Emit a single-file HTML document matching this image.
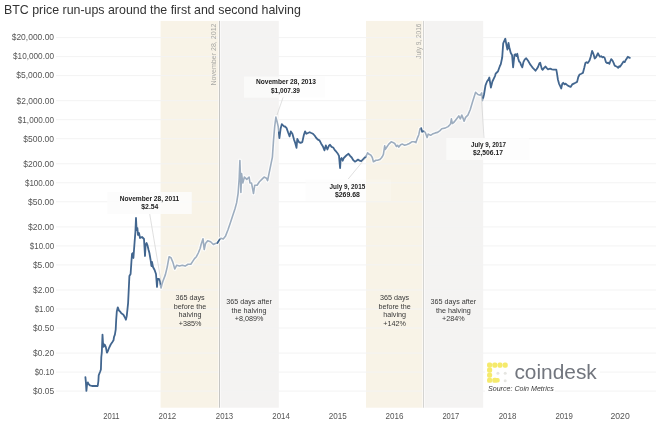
<!DOCTYPE html>
<html><head><meta charset="utf-8"><style>
html,body{margin:0;padding:0;background:#fff;width:659px;height:425px;overflow:hidden}
.t{position:absolute;left:4px;top:3px;font-family:"Liberation Sans",sans-serif;font-size:12.4px;color:#333;white-space:nowrap}
svg{position:absolute;left:0;top:0}
body{filter:blur(0.35px)}
</style></head><body>
<svg width="659" height="425" viewBox="0 0 659 425">
<rect x="160.6" y="20.9" width="58.8" height="386.8" fill="#f8f3e7"/>
<rect x="219.4" y="20.9" width="59.4" height="386.8" fill="#f4f3f2"/>
<rect x="366.0" y="20.9" width="57.3" height="386.8" fill="#f8f3e7"/>
<rect x="423.3" y="20.9" width="59.9" height="386.8" fill="#f4f3f2"/>
<g stroke="#f3f3f3" stroke-width="1"><line x1="56" x2="656" y1="37.6" y2="37.6"/><line x1="56" x2="656" y1="56.6" y2="56.6"/><line x1="56" x2="656" y1="75.6" y2="75.6"/><line x1="56" x2="656" y1="100.7" y2="100.7"/><line x1="56" x2="656" y1="119.7" y2="119.7"/><line x1="56" x2="656" y1="138.7" y2="138.7"/><line x1="56" x2="656" y1="163.8" y2="163.8"/><line x1="56" x2="656" y1="182.8" y2="182.8"/><line x1="56" x2="656" y1="201.8" y2="201.8"/><line x1="56" x2="656" y1="226.9" y2="226.9"/><line x1="56" x2="656" y1="245.9" y2="245.9"/><line x1="56" x2="656" y1="264.9" y2="264.9"/><line x1="56" x2="656" y1="290.0" y2="290.0"/><line x1="56" x2="656" y1="309.0" y2="309.0"/><line x1="56" x2="656" y1="328.0" y2="328.0"/><line x1="56" x2="656" y1="353.1" y2="353.1"/><line x1="56" x2="656" y1="372.1" y2="372.1"/><line x1="56" x2="656" y1="391.1" y2="391.1"/></g>
<line x1="219.5" x2="219.5" y1="20.9" y2="407.7" stroke="#fff" stroke-opacity="0.5" stroke-width="3.2"/>
<line x1="423.5" x2="423.5" y1="20.9" y2="407.7" stroke="#fff" stroke-opacity="0.5" stroke-width="3.2"/>
<line x1="219.5" x2="219.5" y1="20.9" y2="407.7" stroke="#c6c6c4" stroke-width="1"/>
<line x1="423.5" x2="423.5" y1="20.9" y2="407.7" stroke="#d4d4d2" stroke-width="1"/>
<g font-family="'Liberation Sans', sans-serif" font-size="7" fill="#a8a8a4">
<text transform="translate(216.0 85.5) rotate(-90)" textLength="62" lengthAdjust="spacingAndGlyphs">November 28, 2012</text>
<text transform="translate(420.6 58.7) rotate(-90)" textLength="35.2" lengthAdjust="spacingAndGlyphs">July 9, 2016</text>
</g>
<g font-family="'Liberation Sans', sans-serif" font-size="8.5" fill="#555" text-anchor="end"><text x="54.1" y="40.4" textLength="42.4" lengthAdjust="spacingAndGlyphs">$20,000.00</text><text x="54.1" y="59.4" textLength="41.1" lengthAdjust="spacingAndGlyphs">$10,000.00</text><text x="54.1" y="78.4" textLength="37.8" lengthAdjust="spacingAndGlyphs">$5,000.00</text><text x="54.1" y="103.5" textLength="37.5" lengthAdjust="spacingAndGlyphs">$2,000.00</text><text x="54.1" y="122.5" textLength="36.3" lengthAdjust="spacingAndGlyphs">$1,000.00</text><text x="54.1" y="141.5" textLength="30.8" lengthAdjust="spacingAndGlyphs">$500.00</text><text x="54.1" y="166.6" textLength="30.8" lengthAdjust="spacingAndGlyphs">$200.00</text><text x="54.1" y="185.6" textLength="29.2" lengthAdjust="spacingAndGlyphs">$100.00</text><text x="54.1" y="204.6" textLength="26.1" lengthAdjust="spacingAndGlyphs">$50.00</text><text x="54.1" y="229.7" textLength="26.1" lengthAdjust="spacingAndGlyphs">$20.00</text><text x="54.1" y="248.7" textLength="24.3" lengthAdjust="spacingAndGlyphs">$10.00</text><text x="54.1" y="267.7" textLength="21.2" lengthAdjust="spacingAndGlyphs">$5.00</text><text x="54.1" y="292.8" textLength="21.0" lengthAdjust="spacingAndGlyphs">$2.00</text><text x="54.1" y="311.8" textLength="19.4" lengthAdjust="spacingAndGlyphs">$1.00</text><text x="54.1" y="330.8" textLength="21.0" lengthAdjust="spacingAndGlyphs">$0.50</text><text x="54.1" y="355.9" textLength="21.0" lengthAdjust="spacingAndGlyphs">$0.20</text><text x="54.1" y="374.9" textLength="19.4" lengthAdjust="spacingAndGlyphs">$0.10</text><text x="54.1" y="393.9" textLength="21.0" lengthAdjust="spacingAndGlyphs">$0.05</text></g>
<g font-family="'Liberation Sans', sans-serif" font-size="8.5" fill="#555" text-anchor="middle"><text x="111.40" y="418.9" textLength="16.4" lengthAdjust="spacingAndGlyphs">2011</text><text x="167.40" y="418.9" textLength="17.6" lengthAdjust="spacingAndGlyphs">2012</text><text x="224.50" y="418.9" textLength="17.4" lengthAdjust="spacingAndGlyphs">2013</text><text x="281.05" y="418.9" textLength="17.5" lengthAdjust="spacingAndGlyphs">2014</text><text x="337.85" y="418.9" textLength="18.1" lengthAdjust="spacingAndGlyphs">2015</text><text x="394.45" y="418.9" textLength="17.9" lengthAdjust="spacingAndGlyphs">2016</text><text x="450.80" y="418.9" textLength="16.8" lengthAdjust="spacingAndGlyphs">2017</text><text x="507.50" y="418.9" textLength="17.6" lengthAdjust="spacingAndGlyphs">2018</text><text x="564.10" y="418.9" textLength="17.4" lengthAdjust="spacingAndGlyphs">2019</text><text x="620.10" y="418.9" textLength="19.3" lengthAdjust="spacingAndGlyphs">2020</text></g>
<g fill="none" stroke="#fff" stroke-opacity="0.75" stroke-width="4" stroke-linejoin="round" stroke-linecap="round"><path d="M160.6 285.2 L161 288 L162 284 L163 281 L165.4 274.6 L167.2 267.1 L169.1 256.7 L171 257.7 L172.9 262.4 L174.8 269 L176.7 265.2 L179.5 266.1 L182.3 265.2 L185.1 266.1 L188 264.3 L190.8 264.3 L192.7 261.4 L194.5 258.6 L196.4 256.7 L198.3 253 L200.2 248.2 L201.1 244.5 L203 238.8 L204.2 249.5 L205.5 243.5 L207.7 240.7 L210.6 241.7 L213.4 244.5 L215.3 243.5 L217.4 243 L219.7 239.4 L220.9 238.2 L223.2 239 L225.6 235.9 L227.9 230 L230.3 223 L232.6 215.9 L235 208.8 L236.6 202.9 L238.1 193.5 L239.2 178.2 L239.9 160.6 L240.9 192.4 L241.6 173.5 L242.8 183 L244.4 177 L246.8 179.4 L249.1 177 L250 183 L251.5 183 L252.4 187.6 L253.5 193.5 L254.7 185.3 L257.1 185.3 L259.4 181.8 L261.8 179.4 L264.1 177.1 L266.5 178.2 L267.6 180.6 L268.8 174.7 L270.7 165.3 L272.4 157.1 L273.5 140.6 L274.7 126.5 L275.9 117.1 L277.1 121.8 L278.2 126.5 L278.8 132.4"/><path d="M366 156.5 L366 156.5 L367.6 152.8 L369.2 154.3 L370.7 154.9 L372.3 157.5 L373.4 161.7 L374.4 161.2 L376 160.2 L377.6 160.2 L379.7 159.6 L381.3 158 L382.4 156.5 L383.4 154.3 L384.7 145.9 L385.3 149.4 L386.5 147.5 L388.8 144.1 L391.2 141.8 L392.9 142.4 L394.7 143.5 L396.5 146.5 L397.6 145.3 L398.8 147.1 L400.6 144.7 L402.4 144.1 L404.7 145.3 L407.1 144.5 L409.4 143.5 L411.8 141.8 L414.1 141.8 L415.9 142.6 L417.6 137.6 L418.8 134.7 L420 128.8 L421.2 128.2 L422.1 131.8 L423.5 131.2 L425.3 132.4 L427.1 137.6 L428.2 134.1 L430.6 135.3 L432.4 134.1 L435.3 132.9 L437.6 132.4 L440 130.6 L441.8 128.8 L444.1 128.2 L445 128.1 L448.1 126.6 L450.4 124.3 L451.4 118.9 L452.3 123.5 L454.2 122 L456.5 118.9 L458.8 115.9 L460.3 118.9 L461.8 115.1 L463.3 118.9 L464.1 121.2 L465.6 117.4 L467.9 115.1 L470.2 109.8 L472.5 102.1 L474.4 96 L475.6 92.2 L477.9 94.5 L480.2 95.2 L481.7 92.9 L482.5 100.6 L483.2 97.8"/></g>
<g fill="none" stroke-width="1.8" stroke-linejoin="round" stroke-linecap="round"><path d="M85.4 377.1 L85.9 382.4 L86.4 390.9 L87.1 383.8 L87.8 382.4 L88.5 383.8 L89.9 385.3 L92 386 L94.1 386 L96.3 386 L97.7 386 L98.4 381 L98.7 375.4 L99.8 372.5 L100.2 371.5 L100.9 369.5 L101.3 357 L101.8 352.7 L102.5 334.6 L103 342.8 L103.6 346.9 L104.6 344.5 L105.8 346.9 L106.9 352.7 L107.9 351 L109.1 347.8 L110.7 344.5 L112.4 342 L113.5 340.3 L114 337 L114.9 334.6 L115.7 329.6 L116.2 319.7 L116.8 311.5 L117.8 307.3 L119 310.6 L120.1 311.5 L121.1 313.1 L122.3 313.9 L123.4 314.8 L124.8 317.2 L125.9 319.7 L126.7 316.4 L127.4 309.8 L128.1 303.2 L129.4 276 L130.6 274 L131.4 262 L132 254 L133 253 L133.4 258 L134 250 L134.6 242 L135.4 232 L136 218 L136.6 230 L137.4 228 L138 235 L139 233 L140 238 L142 237 L144 239 L145 256 L145.6 245 L146.6 243 L147.4 245 L148.6 250 L149.4 253 L150.6 260 L151.4 266 L152 262 L153 267 L154.6 270 L156 274 L157 287 L157.6 279 L159 279 L160 281 L160.6 285.2" stroke="#42668f"/><path d="M160.6 285.2 L161 288 L162 284 L163 281 L165.4 274.6 L167.2 267.1 L169.1 256.7 L171 257.7 L172.9 262.4 L174.8 269 L176.7 265.2 L179.5 266.1 L182.3 265.2 L185.1 266.1 L188 264.3 L190.8 264.3 L192.7 261.4 L194.5 258.6 L196.4 256.7 L198.3 253 L200.2 248.2 L201.1 244.5 L203 238.8 L204.2 249.5 L205.5 243.5 L207.7 240.7 L210.6 241.7 L213.4 244.5 L215.3 243.5 L217.4 243 L219.7 239.4 L220.9 238.2 L223.2 239 L225.6 235.9 L227.9 230 L230.3 223 L232.6 215.9 L235 208.8 L236.6 202.9 L238.1 193.5 L239.2 178.2 L239.9 160.6 L240.9 192.4 L241.6 173.5 L242.8 183 L244.4 177 L246.8 179.4 L249.1 177 L250 183 L251.5 183 L252.4 187.6 L253.5 193.5 L254.7 185.3 L257.1 185.3 L259.4 181.8 L261.8 179.4 L264.1 177.1 L266.5 178.2 L267.6 180.6 L268.8 174.7 L270.7 165.3 L272.4 157.1 L273.5 140.6 L274.7 126.5 L275.9 117.1 L277.1 121.8 L278.2 126.5 L278.8 132.4" stroke="#9dadbf" stroke-width="1.6"/><path d="M278.8 132.4 L279.4 138.2 L280.6 128.8 L281.8 124.1 L284.1 126.5 L285 126.4 L286.6 128.1 L288.3 133 L289.6 136.3 L290.8 131.4 L292.4 133.8 L294 139.6 L295.2 142.9 L296.5 147.8 L297.3 138.8 L299 142.1 L300.6 142.9 L302.3 142.1 L303.9 134.7 L305.1 131.4 L306.4 133.8 L308 133 L309.7 132.2 L311.3 133 L313 133.8 L314.6 135.5 L316.3 138 L317.9 139.6 L319.5 140.4 L321.2 143.7 L322.8 146.2 L324.5 150.3 L325.8 145.4 L327.4 149.5 L329.1 145.4 L330 144.8 L331.6 146.9 L333.2 147.5 L334.8 150.1 L336.3 151.7 L337.9 153.8 L339 155.9 L340.1 168.1 L340.6 159.6 L341.6 158 L342.7 160.7 L343.8 158 L345.3 156.5 L346.9 154.9 L348.5 153.8 L350.1 155.9 L351.7 157.5 L353.3 160.2 L354.9 161.7 L356.5 160.7 L358 159.6 L359.6 160.7 L361.2 161.2 L362.8 159.6 L364.4 158 L366 156.5" stroke="#42668f"/><path d="M366 156.5 L366 156.5 L367.6 152.8 L369.2 154.3 L370.7 154.9 L372.3 157.5 L373.4 161.7 L374.4 161.2 L376 160.2 L377.6 160.2 L379.7 159.6 L381.3 158 L382.4 156.5 L383.4 154.3 L384.7 145.9 L385.3 149.4 L386.5 147.5 L388.8 144.1 L391.2 141.8 L392.9 142.4 L394.7 143.5 L396.5 146.5 L397.6 145.3 L398.8 147.1 L400.6 144.7 L402.4 144.1 L404.7 145.3 L407.1 144.5 L409.4 143.5 L411.8 141.8 L414.1 141.8 L415.9 142.6 L417.6 137.6 L418.8 134.7 L420 128.8 L421.2 128.2 L422.1 131.8 L423.5 131.2 L425.3 132.4 L427.1 137.6 L428.2 134.1 L430.6 135.3 L432.4 134.1 L435.3 132.9 L437.6 132.4 L440 130.6 L441.8 128.8 L444.1 128.2 L445 128.1 L448.1 126.6 L450.4 124.3 L451.4 118.9 L452.3 123.5 L454.2 122 L456.5 118.9 L458.8 115.9 L460.3 118.9 L461.8 115.1 L463.3 118.9 L464.1 121.2 L465.6 117.4 L467.9 115.1 L470.2 109.8 L472.5 102.1 L474.4 96 L475.6 92.2 L477.9 94.5 L480.2 95.2 L481.7 92.9 L482.5 100.6 L483.2 97.8" stroke="#9dadbf" stroke-width="1.6"/><path d="M483.2 97.8 L484 94.5 L485.5 85.3 L487 81.5 L488.6 79.2 L489.3 77.5 L490.9 87.6 L492.4 81.5 L493.9 78.4 L495 76.1 L495.7 73.6 L496.8 72.5 L498 71.3 L499.9 66 L500.8 64.1 L502.2 57.5 L503.2 43.4 L505.3 38.7 L506.5 45.3 L507.4 49.5 L508.5 42.9 L509.3 47.2 L510.7 52.8 L512.1 55.2 L513.1 67.4 L514.5 54.7 L515.4 54.2 L516.4 56.1 L517.3 53.8 L518.2 58.5 L519.2 61.8 L520.1 62.2 L521.1 65.1 L522.3 67.4 L523.4 62.2 L524.8 59.4 L526.2 58.3 L528.1 60.8 L530 64.1 L531.4 66 L532.8 67.9 L534.3 69.3 L535.5 70.7 L536.6 69.3 L538 67 L539.4 63.2 L540.2 62.7 L540.8 65.1 L541.8 68.8 L542.7 69.8 L544.1 67.9 L545.6 66.5 L546.5 67.9 L548 69.3 L550.2 68.7 L551.9 69.3 L553.5 69.6 L554.9 69.6 L556.3 69.6 L556.9 72.9 L557.9 79.5 L559 83.6 L560.2 86.1 L561.2 88.5 L562.3 83.6 L563.2 82.8 L564.5 84.4 L565.6 83.6 L567.3 85.2 L568.9 86.1 L570.6 86.9 L572.2 84.4 L573.8 83.6 L575.5 82.8 L577.1 81.9 L578.3 77 L579.6 74.5 L581.3 73.7 L582.9 72.9 L584.2 68 L585.4 63 L586.5 62.2 L587.8 63 L589.5 60.6 L590.8 56.4 L592.1 50.9 L592.9 52.6 L593.8 55 L594.7 58.5 L595.9 57.4 L597.1 55 L598 53.2 L598.8 55 L600 56.8 L601.2 56.2 L602.4 57.4 L603.5 56.8 L604.7 57.9 L605.9 62.1 L607.1 63.2 L608.2 62.6 L609.4 63.8 L610.2 61.5 L611.2 59.1 L612.4 60.3 L613.5 62.6 L614.7 65.6 L615.9 66.2 L617.1 66.8 L618.2 67.9 L619.2 66.2 L620 66.8 L621.2 65 L622.4 63.2 L623.5 61.5 L624.7 62.1 L625.9 59.7 L627.1 57.9 L627.9 56.8 L628.8 57.4 L629.8 57.9" stroke="#42668f"/><path d="M216.8 243.1 L217.4 243 L219.7 239.4 L220 239.1" stroke="#42668f" stroke-width="1.6" stroke-linecap="butt"/><path d="M420.7 128.4 L421.2 128.2 L422.1 131.8 L423.5 131.2 L423.9 131.5" stroke="#42668f" stroke-width="1.6" stroke-linecap="butt"/></g>
<g stroke="#cfcfcf" stroke-width="0.65">
<line x1="149.7" y1="213.8" x2="161.3" y2="283.4"/>
<line x1="283.3" y1="96.8" x2="277" y2="115"/>
<line x1="348.2" y1="179" x2="365.5" y2="158"/>
<line x1="484" y1="138" x2="481.3" y2="95.5"/>
</g>
<g fill="#fcfcfc" fill-opacity="0.7">
<rect x="107.3" y="192" width="84.5" height="22" fill-opacity="0.88"/>
<rect x="244" y="76.5" width="81" height="21.2"/>
<rect x="305.6" y="179.5" width="60.4" height="21.5"/>
<rect x="446.3" y="138" width="82.9" height="22.1"/>
</g>
<rect x="366" y="179.5" width="25" height="21.5" fill="#fff" fill-opacity="0.2"/>
<g font-family="'Liberation Sans', sans-serif" font-size="7" font-weight="bold" fill="#222" text-anchor="middle">
<text x="149.45" y="200.9" textLength="59.5" lengthAdjust="spacingAndGlyphs">November 28, 2011</text><text x="149.85" y="209.3" textLength="17.1" lengthAdjust="spacingAndGlyphs">$2.54</text>
<text x="285.9" y="84.4" textLength="60" lengthAdjust="spacingAndGlyphs">November 28, 2013</text><text x="285.5" y="93" textLength="29" lengthAdjust="spacingAndGlyphs">$1,007.39</text>
<text x="347.4" y="189" textLength="35.6" lengthAdjust="spacingAndGlyphs">July 9, 2015</text><text x="347.45" y="197.3" textLength="25.1" lengthAdjust="spacingAndGlyphs">$269.68</text>
<text x="488.55" y="146.7" textLength="34.9" lengthAdjust="spacingAndGlyphs">July 9, 2017</text><text x="488" y="155.3" textLength="30" lengthAdjust="spacingAndGlyphs">$2,506.17</text>
</g>
<g font-family="'Liberation Sans', sans-serif" font-size="7.2" fill="#383838" text-anchor="middle">
<text x="190" y="300.0">365 days</text><text x="190" y="308.5">before the</text><text x="190" y="317.0">halving</text><text x="190" y="325.5">+385%</text>
<text x="249" y="304.3">365 days after</text><text x="249" y="312.8">the halving</text><text x="249" y="321.3">+8,089%</text>
<text x="394.6" y="300.0">365 days</text><text x="394.6" y="308.5">before the</text><text x="394.6" y="317.0">halving</text><text x="394.6" y="325.5">+142%</text>
<text x="453.4" y="304.3">365 days after</text><text x="453.4" y="312.8">the halving</text><text x="453.4" y="321.3">+284%</text>
</g>
<rect x="485" y="357" width="115" height="28" fill="#fff"/><rect x="485" y="384" width="70" height="10" fill="#fff"/>
<g fill="#f5ea6c">
<rect x="487.05" y="362.55" width="5.10" height="5.10" rx="1.91"/><rect x="492.25" y="362.55" width="5.10" height="5.10" rx="1.91"/><rect x="497.45" y="362.55" width="5.10" height="5.10" rx="1.91"/><rect x="502.65" y="362.55" width="5.10" height="5.10" rx="1.91"/><rect x="487.05" y="367.60" width="5.10" height="5.10" rx="1.91"/><rect x="487.05" y="372.65" width="5.10" height="5.10" rx="1.91"/><rect x="487.05" y="377.70" width="5.10" height="5.10" rx="1.91"/><rect x="492.25" y="377.70" width="5.10" height="5.10" rx="1.91"/><rect x="495.10" y="377.95" width="4.60" height="4.60" rx="1.72"/><circle cx="497.9" cy="373.2" r="1.5" fill="#e6e6e2"/><circle cx="505.2" cy="373.2" r="1.5" fill="#e6e6e2"/><circle cx="505.2" cy="380.8" r="1.5" fill="#e6e6e2"/>
</g>
<text x="514.4" y="379.3" font-family="'Liberation Sans', sans-serif" font-size="20" fill="#72767e" textLength="82.4" lengthAdjust="spacingAndGlyphs">coindesk</text>
<text x="488" y="391" font-family="'Liberation Sans', sans-serif" font-size="7.1" font-style="italic" fill="#3c3c3c">Source: Coin Metrics</text>
</svg>
<div class="t">BTC price run-ups around the first and second halving</div>
</body></html>
